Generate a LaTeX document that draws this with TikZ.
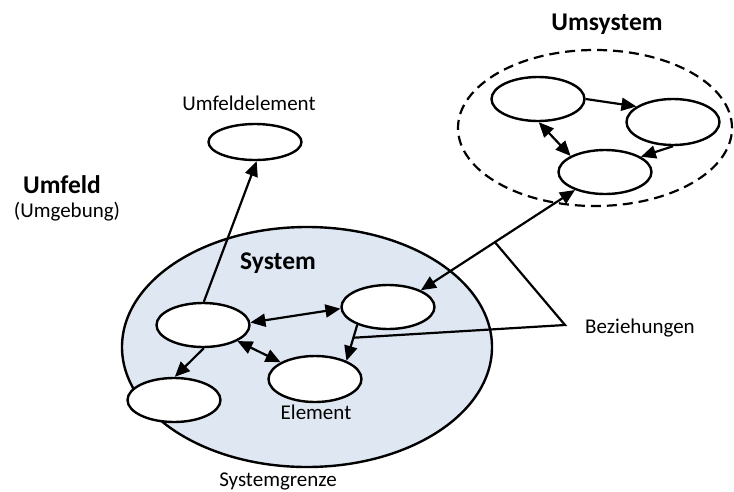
\documentclass[tikz,border=0pt]{standalone}
\usepackage{fontspec}
\setmainfont{Carlito}
\usetikzlibrary{shapes.geometric,arrows.meta,calc}
\definecolor{sysfill}{RGB}{222,231,242}
\begin{document}
\begin{tikzpicture}[x=1pt,y=-1pt,
  elem/.style={ellipse,draw,line width=2.4pt,fill=white,minimum width=93pt,minimum height=44pt,inner sep=0pt},
  tip/.tip={Triangle[length=15pt,width=13pt]},
  rel/.style={line width=2.2pt,-tip},
  birel/.style={line width=2.2pt,tip-tip},
  plain/.style={line width=2.2pt},
  lbl/.style={font=\fontsize{21}{25}\selectfont,inner sep=0pt,anchor=base},
  title/.style={font=\fontsize{25.5}{30}\selectfont\bfseries,inner sep=0pt,anchor=base}]
\useasboundingbox (0,0) rectangle (734,491);

% system boundary and surrounding system
\node[ellipse,draw,fill=sysfill,line width=2.4pt,minimum width=370pt,minimum height=240pt] (sys) at (307,347) {};
\node[ellipse,draw,dash pattern=on 10pt off 6pt,line width=2.2pt,minimum width=274pt,minimum height=156pt] (ums) at (595,128) {};

% elements of the system
\node[elem] (A) at (203,325) {};
\node[elem] (B) at (388,307) {};
\node[elem,minimum height=46pt] (C) at (315,379) {};
\node[elem] (D) at (174,400) {};

% environment element
\node[elem,minimum height=36pt] (UE) at (255,142) {};

% elements of the surrounding system
\node[elem] (U1) at (538,99) {};
\node[elem,minimum height=46pt] (U2) at (673,122) {};
\node[elem] (U3) at (605,172) {};

% relations
\draw[rel] (A.88) -- (UE.-85);
\draw[birel] (A.3) -- (B.182);
\draw[birel] (A.-25) -- (C.154);
\draw[rel] (A.-88) -- (D.88);
\draw[rel] (B.-150) -- (C.30);
\draw[birel] (B.27) -- (U3.211);
\draw[rel] (U1.0) -- (U2.157);
\draw[rel] (U2.-90) -- (U3.23);
\draw[birel] (U1.-88) -- (U3.155);

% labels
\node[title] (tUms) at (607,30) {Umsystem};
\node[title] (tSys) at (278,269) {System};
\node[title] (tUmf) at (62,193) {Umfeld};
\node[lbl] (tUmg) at (67,217) {(Umgebung)};
\node[lbl] (tUE) at (249,110) {Umfeldelement};
\node[lbl] (tEl) at (316,419) {Element};
\node[lbl] (tSg) at (278,486) {Systemgrenze};
\node[lbl] (tBz) at (640,333) {Beziehungen};

% pointer lines of the relation label
\coordinate (bzApex) at (565,325);
\draw[plain,line join=miter] ($(B.27)!0.48!(U3.211)$) -- (bzApex) -- ($(B.-150)!0.36!(C.30)$);
\end{tikzpicture}
\end{document}
